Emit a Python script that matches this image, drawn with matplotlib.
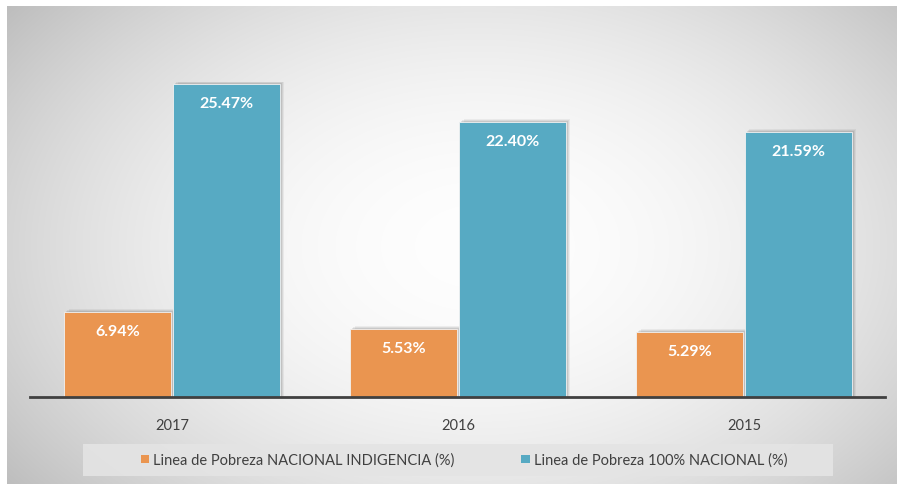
import numpy as np
import matplotlib.pyplot as plt
from matplotlib.patches import Rectangle

years = ['2017', '2016', '2015']
indigencia = [6.94, 5.53, 5.29]
pobreza = [25.47, 22.40, 21.59]
series_names = ['Linea de Pobreza NACIONAL INDIGENCIA (%)',
                'Linea de Pobreza 100% NACIONAL (%)']
colors = ['#EA9550', '#57AAC3']

plt.rcParams['font.family'] = ['Lato', 'DejaVu Sans']

fig = plt.figure(figsize=(8.97, 4.85), dpi=100)
fig.patch.set_facecolor('white')

# radial grey background of the chart frame
bg = fig.add_axes([7 / 897, 0, 890 / 897, 478 / 485], zorder=0)
h, w = 478, 890
yy, xx = np.mgrid[0:h, 0:w]
r2 = ((xx - 470) / 600.0) ** 2 + ((yy - 240) / 400.0) ** 2
shade = np.clip(0.995 - 0.26 * r2, 0.74, 0.995)
bg.imshow(np.dstack([shade] * 3), aspect='auto', interpolation='bilinear')
bg.axis('off')

# legend band
fig.patches.append(Rectangle((83 / 897, (485 - 477) / 485), 750 / 897, 32 / 485,
                             transform=fig.transFigure, facecolor='#e4e4e4',
                             edgecolor='none', alpha=0.9, zorder=1))

ax = fig.add_axes([30 / 897, 87 / 485, 855 / 897, 388 / 485], zorder=2)
ax.patch.set_alpha(0)

x = np.arange(len(years))
width = 0.374
offsets = [-0.19, 0.19]
for vals, off, col in zip([indigencia, pobreza], offsets, colors):
    # soft drop shadow
    for k, a in [(0.016, 0.07), (0.011, 0.09), (0.006, 0.12)]:
        for xi, v in zip(x, vals):
            ax.add_patch(Rectangle((xi + off - width / 2 + k, 0), width, v + k * 14,
                                   facecolor='#404040', alpha=a, edgecolor='none', zorder=2))
    ax.bar(x + off, vals, width, color=col, edgecolor='#f2f2f2',
           linewidth=0.6, zorder=3)
    for xi, v in zip(x, vals):
        ax.annotate(f'{v:.2f}%', (xi + off, v), xytext=(0, -13.5),
                    textcoords='offset points', ha='center', va='center',
                    color='white', fontsize=11.5, fontweight='bold', zorder=4)

ax.set_xlim(-0.497, 2.493)
ax.set_ylim(0, 31.6)
ax.set_xticks(x)
ax.set_xticklabels(years, fontsize=10.5, color='#404040')
ax.tick_params(axis='x', length=0, pad=15)
ax.set_yticks([])
for s in ['top', 'right', 'left']:
    ax.spines[s].set_visible(False)
ax.spines['bottom'].set_color('#404040')
ax.spines['bottom'].set_linewidth(2)
ax.spines['bottom'].set_zorder(5)

handles = [Rectangle((0, 0), 1, 1, facecolor=c, edgecolor='none') for c in colors]
leg = fig.legend(handles, series_names, loc='center', ncol=2,
                 bbox_to_anchor=(464 / 897, (485 - 461) / 485),
                 frameon=False, fontsize=10.5,
                 handlelength=0.55, handleheight=0.55, handletextpad=0.3,
                 columnspacing=4.6)
for t in leg.get_texts():
    t.set_color('#404040')

fig.savefig('out.png', dpi=100)
